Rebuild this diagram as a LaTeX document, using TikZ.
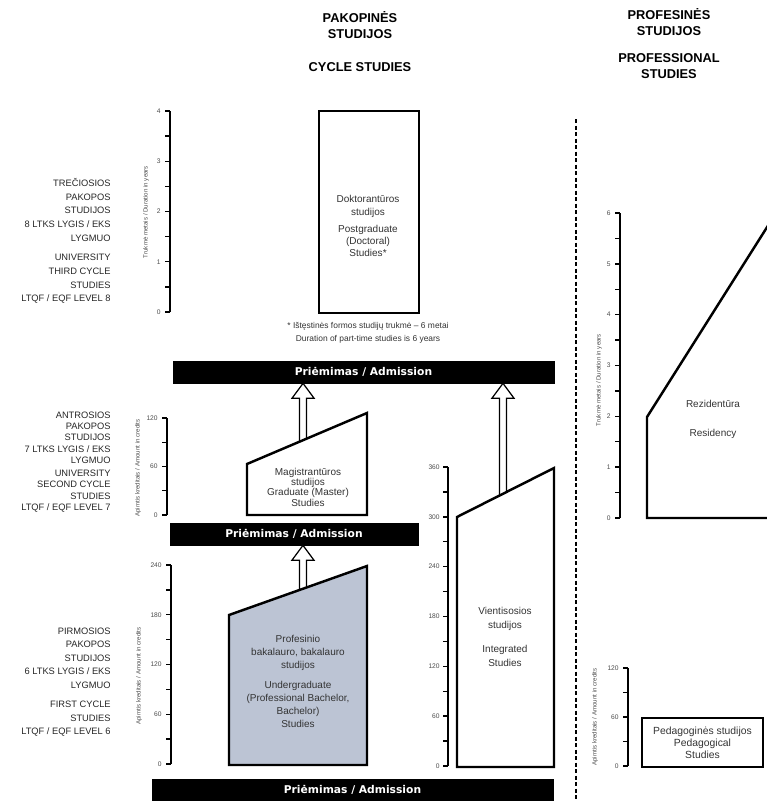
\documentclass[tikz,border=0pt]{standalone}
\usepackage{fontspec}
\setmainfont{Liberation Sans}
\newfontfamily\barfont{DejaVu Sans}
\usetikzlibrary{calc}
\definecolor{bachgray}{RGB}{188,196,212}

\tikzset{
  studybox/.style={draw, fill=white, line width=1.4pt, line join=miter},
  axisline/.style={line width=0.8pt},
  admbar/.style={fill=black, draw=black, inner sep=0pt, text=white,
    font=\barfont\bfseries\fontsize{6.1}{7}\selectfont},
  levellab/.style={anchor=east, align=right, inner sep=0pt, text=black!85},
  boxtext/.style={align=center, inner sep=0pt, text=black!80},
  ticklab/.style={anchor=east, inner sep=0pt, text=black!70,
    font=\fontsize{3.8}{4}\selectfont},
  axislab/.style={rotate=90, inner sep=0pt, text=black!70,
    font=\fontsize{3.5}{4}\selectfont},
  headlab/.style={align=center, inner sep=0pt, font=\bfseries\fontsize{7.3}{9.4}\selectfont},
  blockarrow/.style={draw, fill=white, line width=0.7pt, line join=miter},
  divider/.style={line width=1.1pt, dash pattern=on 2.4pt off 1.3pt},
}

% hollow upward arrow from a point on a box to the bar above it
\newcommand\upblock[2]{%
  \draw[blockarrow] let \p1=(#1), \p2=(#2) in
    (\x1-2pt,\y1-3pt) -- (\x1-2pt,\y2-8.5pt) -- (\x1-6.3pt,\y2-8.5pt) -- (\x1,\y2)
    -- (\x1+6.3pt,\y2-8.5pt) -- (\x1+2pt,\y2-8.5pt) -- (\x1+2pt,\y1-3pt) -- cycle;}

\begin{document}
\begin{tikzpicture}[x=0.02cm, y=-0.02cm]
  \useasboundingbox (0,0) rectangle (767,801);

  % headings
  \node[headlab] (cyc-lt) at (360,25) {PAKOPINĖS\\STUDIJOS};
  \node[headlab] (cyc-en) at (360,67) {CYCLE STUDIES};
  \node[headlab] (prof-lt) at (669,22) {PROFESINĖS\\STUDIJOS};
  \node[headlab] (prof-en) at (669,66) {PROFESSIONAL\\STUDIES};

  \draw[divider] (576,119) -- (576,801);

  % admission bars
  \node[admbar, minimum width=7.62cm, minimum height=0.44cm] (bar1) at (363.5,372) {Priėmimas / Admission};
  \node[admbar, minimum width=4.96cm, minimum height=0.44cm] (bar2) at (294,534) {Priėmimas / Admission};
  \node[admbar, minimum width=8.02cm, minimum height=0.44cm] (bar3) at (352.5,790) {Priėmimas / Admission};

  % level 8
  \node[levellab, font=\fontsize{5.3}{7.8}\selectfont] (lvl8) at (111,241) {TREČIOSIOS\\PAKOPOS\\STUDIJOS\\8 LTKS LYGIS / EKS\\LYGMUO\\[3.4pt]UNIVERSITY\\THIRD CYCLE\\STUDIES\\LTQF / EQF LEVEL 8};
  \draw[axisline] (170,111) -- (170,312);
  \foreach \k in {0,...,8} \draw[axisline] (170,312-\k*25.125) -- ++(-5,0);
  \foreach \v [count=\k from 0] in {0,...,4} \node[ticklab] (d-tick\v) at (161,312-\k*50.25) {\v};
  \node[axislab] (d-axis) at (146,212) {Trukmė metais / Duration in years};
  \node[draw, line width=1.4pt, minimum width=2cm, minimum height=4.04cm] (doc) at (369,212) {};
  \node[boxtext, font=\fontsize{5.7}{6.9}\selectfont] (doc-txt) at (368,226) {Doktorantūros\\studijos\\[2.8pt]Postgraduate\\(Doctoral)\\Studies*};
  \node[boxtext, font=\fontsize{4.8}{7.4}\selectfont] (doc-note) at (368,333) {* Ištęstinės formos studijų trukmė – 6 metai\\Duration of part-time studies is 6 years};

  % level 7
  \node[levellab, font=\fontsize{5.3}{6.4}\selectfont] (lvl7) at (111,462) {ANTROSIOS\\PAKOPOS\\STUDIJOS\\7 LTKS LYGIS / EKS\\LYGMUO\\[1.2pt]UNIVERSITY\\SECOND CYCLE\\STUDIES\\LTQF / EQF LEVEL 7};
  \draw[axisline] (167,418) -- (167,515);
  \foreach \k in {0,...,4} \draw[axisline] (167,515-\k*24.25) -- ++(-5,0);
  \foreach \v [count=\k from 0] in {0,60,120} \node[ticklab] (m-tick\v) at (158,515-\k*48.5) {\v};
  \node[axislab] (m-axis) at (138,468) {Apimtis kreditais / Amount in credits};
  \coordinate (mag-bl) at (247,515);
  \coordinate (mag-tl) at (247,464);
  \coordinate (mag-tr) at (367,413);
  \coordinate (mag-br) at (367,515);
  \coordinate (mag-top) at ($(mag-tl)!0.467!(mag-tr)$);
  \upblock{mag-top}{bar1.south -| mag-top}
  \draw[studybox] (mag-bl) -- (mag-tl) -- (mag-tr) -- (mag-br) -- cycle;
  \node[boxtext, font=\fontsize{5.7}{5.9}\selectfont] (mag-txt) at (308,487) {Magistrantūros\\studijos\\Graduate (Master)\\Studies};

  % level 6
  \node[levellab, font=\fontsize{5.3}{7.7}\selectfont] (lvl6) at (111,682) {PIRMOSIOS\\PAKOPOS\\STUDIJOS\\6 LTKS LYGIS / EKS\\LYGMUO\\[3.4pt]FIRST CYCLE\\STUDIES\\LTQF / EQF LEVEL 6};
  \draw[axisline] (171,565) -- (171,764);
  \foreach \k in {0,...,8} \draw[axisline] (171,764-\k*24.875) -- ++(-5,0);
  \foreach \v [count=\k from 0] in {0,60,...,240} \node[ticklab] (b-tick\v) at (162,764-\k*49.75) {\v};
  \node[axislab] (b-axis) at (139,676) {Apimtis kreditais / Amount in credits};
  \coordinate (bak-bl) at (229,765);
  \coordinate (bak-tl) at (229,615);
  \coordinate (bak-tr) at (367,566);
  \coordinate (bak-br) at (367,765);
  \coordinate (bak-top) at ($(bak-tl)!0.536!(bak-tr)$);
  \upblock{bak-top}{bar2.south -| bak-top}
  \draw[studybox, fill=bachgray] (bak-bl) -- (bak-tl) -- (bak-tr) -- (bak-br) -- cycle;
  \node[boxtext, font=\fontsize{5.7}{7.4}\selectfont] (bak-txt) at (298,681) {Profesinio\\bakalauro, bakalauro\\studijos\\[4pt]Undergraduate\\(Professional Bachelor,\\Bachelor)\\Studies};

  % integrated studies
  \draw[axisline] (448,467) -- (448,766);
  \foreach \k in {0,...,12} \draw[axisline] (448,766-\k*24.917) -- ++(-5,0);
  \foreach \v [count=\k from 0] in {0,60,...,360} \node[ticklab] (v-tick\v) at (440,766-\k*49.83) {\v};
  \coordinate (vie-bl) at (457,767);
  \coordinate (vie-tl) at (457,517);
  \coordinate (vie-tr) at (554,468);
  \coordinate (vie-br) at (554,767);
  \coordinate (vie-top) at ($(vie-tl)!0.474!(vie-tr)$);
  \upblock{vie-top}{bar1.south -| vie-top}
  \draw[studybox] (vie-bl) -- (vie-tl) -- (vie-tr) -- (vie-br) -- cycle;
  \node[boxtext, font=\fontsize{5.7}{8}\selectfont] (vie-txt) at (505,637) {Vientisosios\\studijos\\[5.7pt]Integrated\\Studies};

  % residency
  \draw[axisline] (620,213) -- (620,518);
  \foreach \k in {0,...,12} \draw[axisline] (620,518-\k*25.417) -- ++(-5,0);
  \foreach \v [count=\k from 0] in {0,...,6} \node[ticklab] (r-tick\v) at (611,518-\k*50.83) {\v};
  \node[axislab] (r-axis) at (599,380) {Trukmė metais / Duration in years};
  \begin{scope}
    \clip (0,0) rectangle (767,801);
    \draw[studybox, fill=none] (800,518) -- (647,518) -- (647,417) -- (776,213) -- (800,213);
  \end{scope}
  \node[boxtext, font=\fontsize{5.7}{7}\selectfont] (rez-txt) at (713,419) {Rezidentūra\\[9.5pt]Residency};

  % pedagogical studies
  \draw[axisline] (628,668) -- (628,766);
  \foreach \k in {0,...,4} \draw[axisline] (628,766-\k*24.5) -- ++(-5,0);
  \foreach \v [count=\k from 0] in {0,60,120} \node[ticklab] (p-tick\v) at (619,766-\k*49) {\v};
  \node[axislab] (p-axis) at (595,717) {Apimtis kreditais / Amount in credits};
  \node[draw, line width=1.4pt, minimum width=2.42cm, minimum height=0.98cm, boxtext,
    font=\fontsize{5.9}{6.8}\selectfont] (ped) at (702.5,742.5) {Pedagoginės studijos\\Pedagogical\\Studies};
\end{tikzpicture}
\end{document}
